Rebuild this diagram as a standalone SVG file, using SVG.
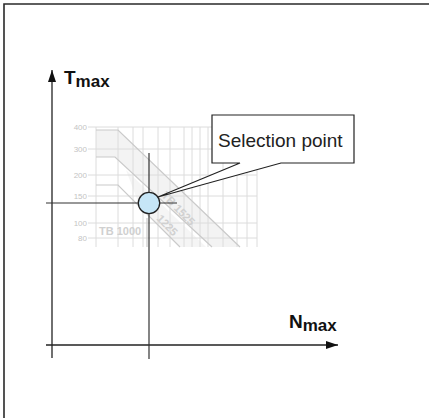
<svg xmlns="http://www.w3.org/2000/svg" width="429" height="418" viewBox="0 0 429 418">
<style>
.frame{stroke:#2a2a2a;stroke-width:1.6;fill:none}
.grid{stroke:#dcdcdc;stroke-width:1;fill:none}
.band{stroke:#cacaca;stroke-width:1.2;fill:none}
.glab{font-family:"Liberation Sans",Arial,sans-serif;font-size:8px;fill:#c4c4c4}
.btxt{font-family:"Liberation Sans",Arial,sans-serif;font-size:11px;font-weight:bold;fill:#d0d0d0}
.ax{stroke:#222;stroke-width:1.3;fill:none}
.sel{stroke:#333;stroke-width:1.2;fill:none}
.lbl{font-family:"Liberation Sans",Arial,sans-serif;font-weight:bold;fill:#111}
.call{font-family:"Liberation Sans",Arial,sans-serif;font-size:19px;fill:#222}
</style>
<defs>
<marker id="arr" viewBox="0 0 12 8" refX="12" refY="4" markerWidth="12" markerHeight="8" markerUnits="userSpaceOnUse" orient="auto">
<path d="M0,0 L12,4 L0,8 Z" fill="#111"/>
</marker>
</defs>
<g id="frame">
<path class="frame" d="M4,418 V4 H429"/>
</g>
<g id="chart-background">
<path d="M96,130 H118 L240,247 H212 L115,157 H96 Z" fill="#f3f3f3"/>
<path d="M140,207 L180,247 H206 L126,170 Z" fill="#f5f5f5"/>
<g class="grid">
<path d="M88,127 H257 M88,149 H257 M88,175 H257 M88,196 H257 M88,223 H257 M88,238 H257"/>
<path d="M96,127 V247 M118,127 V247 M133,127 V247 M143,127 V247 M158,127 V247 M170,127 V247 M184,127 V247 M192,127 V247 M200,127 V247 M208,127 V247 M223,127 V247 M237,127 V247 M247,127 V247 M257,127 V247"/>
</g>
<g class="band">
<path d="M96,130 H118 L240,247"/>
<path d="M96,157 H115 L212,247"/>
<path d="M96,185 H118 L180,247"/>
<path d="M147,218 V247"/>
</g>
<g class="glab" text-anchor="end">
<text x="87" y="130">400</text>
<text x="87" y="152">300</text>
<text x="87" y="178">200</text>
<text x="87" y="199">150</text>
<text x="87" y="226">100</text>
<text x="87" y="241">80</text>
</g>
<text class="btxt" x="99" y="235">TB 1000</text>
<text class="btxt" transform="translate(161,196) rotate(46)">TB 1525</text>
<text class="btxt" transform="translate(156,219) rotate(46)">1225</text>
</g>
<g id="connectors">
<line class="ax" x1="52" y1="358" x2="52" y2="70" marker-end="url(#arr)"/>
<line class="ax" x1="46" y1="345" x2="338" y2="345" marker-end="url(#arr)"/>
<line class="sel" x1="149" y1="153" x2="149" y2="359"/>
<line class="sel" x1="46" y1="203" x2="177" y2="203"/>
</g>
<g id="label-T">
<text class="lbl" x="64" y="84" font-size="19">T<tspan font-size="17" dy="3">max</tspan></text>
</g>
<g id="label-N">
<text class="lbl" x="289" y="328" font-size="19">N<tspan font-size="17" dy="3">max</tspan></text>
</g>
<g id="selection-point">
<path d="M212,115 H354 V163 H281 L158,197 L240,163 H212 Z" fill="#fff" stroke="#222" stroke-width="1.2" stroke-linejoin="miter"/>
<text class="call" x="218" y="147">Selection point</text>
<circle cx="149" cy="203" r="10.7" fill="#c6e6f7" stroke="#222" stroke-width="1.3"/>
</g>
</svg>
